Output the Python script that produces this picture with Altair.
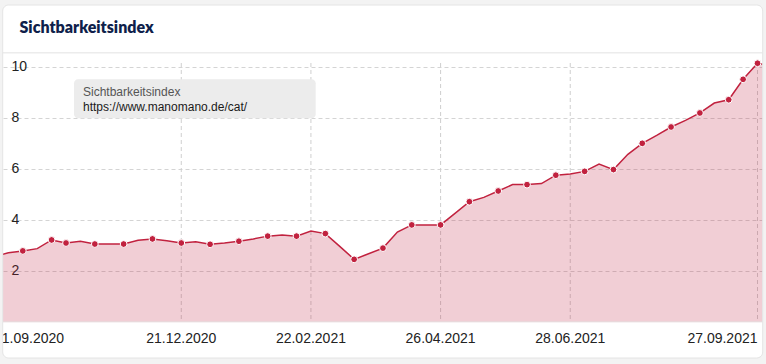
import altair as alt
import pandas as pd

# ---------------- data ----------------
FIRST_WEEK = "2020-09-21"          # weekly Monday values
VALUES = [2.55, 2.71, 2.78, 2.87, 3.21, 3.09, 3.16, 3.05, 3.05, 3.05,
          3.20, 3.25, 3.18, 3.09, 3.14, 3.04, 3.09, 3.16, 3.25, 3.36,
          3.40, 3.36, 3.56, 3.46, 2.96, 2.45, 2.67, 2.89, 3.52, 3.80,
          3.80, 3.80, 4.25, 4.71, 4.88, 5.13, 5.38, 5.38, 5.42, 5.75,
          5.80, 5.90, 6.19, 5.97, 6.57, 7.00, 7.31, 7.64, 7.90, 8.19,
          8.58, 8.71, 9.51, 10.14, 10.05]
MARKED = [2, 4, 5, 7, 9, 11, 13, 15, 17, 19, 21, 23, 25, 27, 29, 31, 33,
          35, 37, 39, 41, 43, 45, 47, 49, 51, 52, 53]
TICK_DATES = ["2020-09-21", "2020-12-21", "2021-02-22", "2021-04-26",
              "2021-06-28", "2021-09-27"]
TICK_LABELS = ["21.09.2020", "21.12.2020", "22.02.2021", "26.04.2021",
               "28.06.2021", "27.09.2021"]
Y_TICKS = [2, 4, 6, 8, 10]
TITLE = "Sichtbarkeitsindex"
LEGEND_NAME = "Sichtbarkeitsindex"
LEGEND_URL = "https://www.manomano.de/cat/"

# ---------------- tables ----------------
dates = pd.date_range(FIRST_WEEK, periods=len(VALUES), freq="7D")
df = pd.DataFrame({
    "date": [d.strftime("%Y-%m-%dT00:00:00") for d in dates],
    "value": VALUES,
    "marked": [i in MARKED for i in range(len(VALUES))],
})
ticks = pd.DataFrame({
    "date": [d + "T00:00:00" for d in TICK_DATES],
    "label": TICK_LABELS,
})
one = pd.DataFrame({"k": [0]})

# ---------------- layout ----------------
W, H = 759.5, 258.8
CRIMSON = "#c1223f"
FONT = "Liberation Sans"

xscale = alt.Scale(domain=[alt.DateTime(year=2020, month=9, date=25, hours=9),
                           alt.DateTime(year=2021, month=9, date=29, hours=10)])
yaxis = alt.Axis(values=Y_TICKS, grid=True, gridDash=[4, 3], gridColor="#d4d4d4",
                 gridWidth=1, domain=False, ticks=False, labelAlign="left",
                 labelPadding=-8, labelFont=FONT, labelFontSize=14,
                 labelColor="#222222", labelBaseline="middle", title=None)
xenc = alt.X("date:T", scale=xscale, axis=None)
yenc = alt.Y("value:Q", scale=alt.Scale(domain=[0, 10.15], nice=False), axis=yaxis)

base = alt.Chart(df)

vgrid = alt.Chart(ticks).mark_rule(color="#cfcfcf", strokeDash=[4, 3], strokeWidth=1,
                                  clip=True).encode(
    x=xenc, y=alt.value(0), y2=alt.value(H))

area = base.mark_area(color=CRIMSON, fillOpacity=0.22, clip=True).encode(x=xenc, y=yenc)
line = base.mark_line(color=CRIMSON, strokeWidth=1.5, clip=True).encode(x=xenc, y=yenc)
pts = base.transform_filter("datum.marked").mark_circle(
    color=CRIMSON, opacity=1, size=46, stroke="white", strokeWidth=1).encode(x=xenc, y=yenc)

bottom_line = alt.Chart(one).mark_rule(color="#e3d3d6", strokeWidth=1).encode(
    x=alt.value(0), x2=alt.value(W), y=alt.value(H))

xl_first = alt.Chart(ticks.iloc[[0]]).mark_text(
    align="left", baseline="middle", font=FONT, fontSize=14, color="#222222").encode(
    x=xenc, y=alt.value(H + 17.5), text="label:N")
xl_mid = alt.Chart(ticks.iloc[1:-1]).mark_text(
    align="center", baseline="middle", font=FONT, fontSize=14, color="#222222").encode(
    x=xenc, y=alt.value(H + 17.5), text="label:N")
xl_last = alt.Chart(ticks.iloc[[-1]]).mark_text(
    align="right", baseline="middle", font=FONT, fontSize=14, color="#222222").encode(
    x=xenc, y=alt.value(H + 17.5), text="label:N")

legend_box = alt.Chart(one).mark_rect(fill="#ececec", cornerRadius=4).encode(
    x=alt.value(71), x2=alt.value(312.7), y=alt.value(16.3), y2=alt.value(55.3))
legend_t1 = alt.Chart(one).mark_text(
    align="left", baseline="middle", font=FONT, fontSize=12, color="#555555").encode(
    x=alt.value(80), y=alt.value(28.7), text=alt.value(LEGEND_NAME))
legend_t2 = alt.Chart(one).mark_text(
    align="left", baseline="middle", font=FONT, fontSize=12, color="#1a1a1a").encode(
    x=alt.value(80), y=alt.value(43.7), text=alt.value(LEGEND_URL))

title = alt.Chart(one).mark_text(
    align="left", baseline="alphabetic", font="Lato", fontSize=16, fontWeight=800,
    color="#0f1f4b").encode(x=alt.value(16.5), y=alt.value(-29.7), text=alt.value(TITLE))

separator = alt.Chart(one).mark_rule(color="#ececec", strokeWidth=1.5).encode(
    x=alt.value(-0.3), x2=alt.value(759.7), y=alt.value(-10.3))

frame_outer = alt.Chart(one).mark_rect(fill=None, stroke="#f3f3f3", strokeWidth=14,
                                        cornerRadius=13).encode(
    x=alt.value(-7.3), x2=alt.value(766.7), y=alt.value(-65), y2=alt.value(302))
frame_border = alt.Chart(one).mark_rect(fill=None, stroke="#e4e4e4", strokeWidth=1,
                                         cornerRadius=6).encode(
    x=alt.value(-0.3), x2=alt.value(759.7), y=alt.value(-58), y2=alt.value(295))

chart = alt.layer(
    vgrid, area, line, bottom_line, pts,
    xl_first, xl_mid, xl_last,
    legend_box, legend_t1, legend_t2,
    title, separator, frame_outer, frame_border,
).properties(
    width=W, height=H,
    padding={"left": 3, "top": 63, "right": 3.5, "bottom": 42.2},
    autosize=alt.AutoSizeParams(type="none"),
    background="white",
).configure_view(strokeWidth=0)

chart.save("out.html", embed_options={"renderer": "svg", "actions": False})
